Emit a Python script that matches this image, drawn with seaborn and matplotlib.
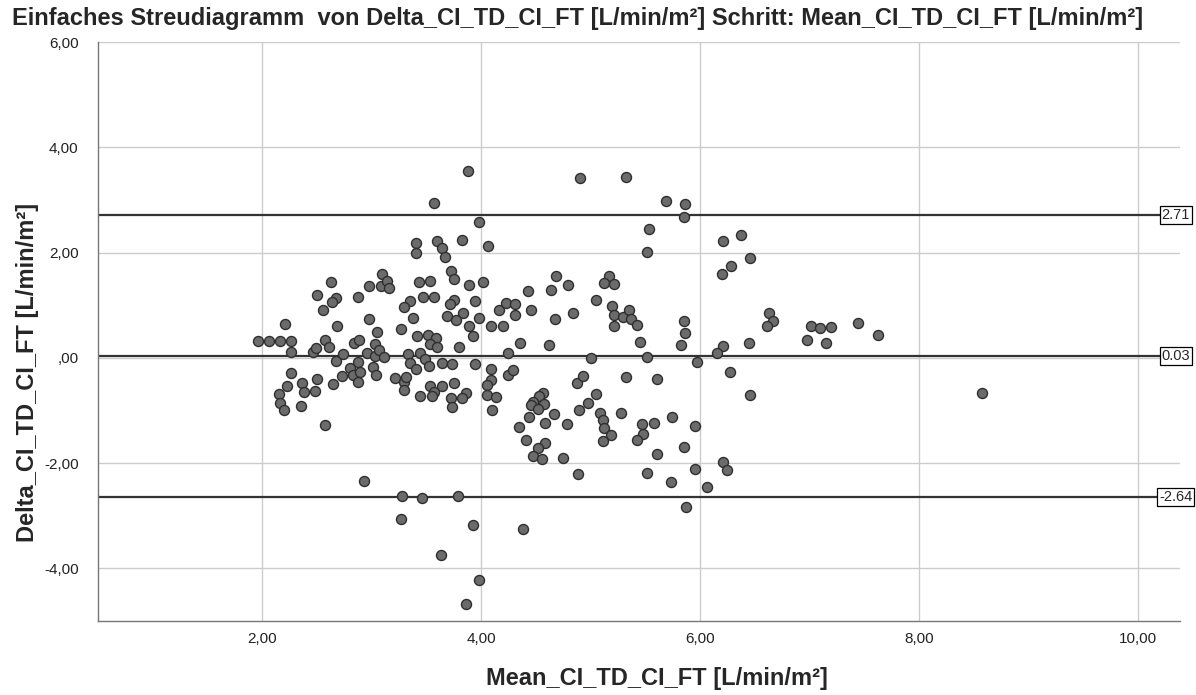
import matplotlib
matplotlib.use("Agg")
import matplotlib.pyplot as plt
import matplotlib.ticker as mticker
import seaborn as sns
import pandas as pd

# Bland-Altman data
mean_ci = [
    2.63, 2.50, 2.67, 2.64, 2.87, 2.97, 2.55, 2.97, 2.21, 2.68, 3.09, 3.08,
    1.96, 2.06, 2.16, 2.26, 2.26, 2.46, 2.49, 2.57, 2.61, 2.67, 2.74, 2.84,
    2.88, 3.03, 3.05, 2.96, 3.03, 3.07, 2.87, 2.80, 2.73, 2.83, 2.89, 2.87,
    3.01, 3.04, 2.65, 2.50, 2.36, 2.38, 2.48, 2.26, 2.23, 2.15, 2.16, 2.20,
    2.35, 2.57, 2.93,
    3.88, 3.57, 4.90, 3.98, 3.40, 3.40, 3.60, 3.64, 3.67, 3.82, 4.06, 3.72,
    3.75, 3.14, 3.16, 3.43, 3.53, 3.89, 4.02, 3.47, 3.57, 3.35, 3.29, 3.75,
    3.71, 3.94, 3.83, 3.38, 3.69, 3.77, 3.98, 3.89, 3.27, 4.09, 4.20, 4.16,
    4.23, 4.31, 4.31, 4.43, 4.45, 4.64, 4.68, 4.79, 4.67, 4.84,
    3.41, 3.51, 3.59, 3.53, 3.60, 3.80, 3.92, 3.11, 3.33, 3.44, 3.35, 3.49,
    3.40, 3.52, 3.64, 3.73, 3.94, 4.24, 4.35, 4.62, 3.21, 3.29, 3.31, 3.29,
    3.44, 3.53, 3.57, 3.55, 3.64, 3.75, 3.86, 3.82, 3.72, 3.73, 4.09, 4.09,
    4.05, 4.05, 4.13, 4.10, 4.24, 4.29, 4.87, 4.89, 4.56, 4.53, 4.47, 4.45,
    4.57, 4.52, 4.66, 4.44, 4.58, 4.78, 4.34, 4.41, 4.58, 4.52, 4.47, 4.55,
    4.75, 4.88, 3.28, 3.46, 3.79,
    3.27, 3.92, 4.38, 3.63, 3.98, 3.86,
    5.32, 5.69, 5.86, 5.85, 5.53, 5.51, 6.21, 6.37, 6.45, 6.28, 6.20, 5.17,
    5.12, 5.21, 5.05, 5.19, 5.21, 5.29, 5.35, 5.37, 5.42, 5.21, 5.85, 6.63,
    6.66, 6.61,
    5.86, 5.45, 5.82, 5.00, 5.51, 5.97, 6.21, 6.15, 6.44, 6.27, 6.45, 4.93,
    5.32, 5.60, 5.05, 4.97, 5.08, 5.11, 5.28, 5.12, 5.18, 5.11, 5.47, 5.58,
    5.48, 5.42, 5.74, 5.95, 5.85, 5.60, 5.51, 5.95, 5.73, 6.21, 6.24, 6.06,
    5.87,
    7.01, 7.09, 7.19, 6.97, 7.15, 7.44, 7.62, 8.57,
]
delta_ci = [
    1.44, 1.20, 1.14, 1.06, 1.15, 1.36, 0.91, 0.74, 0.64, 0.60, 1.60, 1.36,
    0.32, 0.32, 0.32, 0.32, 0.11, 0.12, 0.18, 0.34, 0.20, -0.06, 0.07, 0.28,
    0.34, 0.26, 0.50, 0.10, 0.03, 0.15, -0.07, -0.20, -0.34, -0.32, -0.26, -0.45,
    -0.18, -0.32, -0.50, -0.40, -0.47, -0.65, -0.63, -0.28, -0.53, -0.69, -0.86, -0.99,
    -0.91, -1.27, -2.34,
    3.55, 2.95, 3.42, 2.58, 2.19, 2.00, 2.21, 2.09, 1.92, 2.24, 2.13, 1.64,
    1.49, 1.46, 1.32, 1.44, 1.46, 1.39, 1.44, 1.16, 1.15, 1.07, 0.96, 1.10,
    1.02, 1.07, 0.86, 0.75, 0.79, 0.72, 0.75, 0.61, 0.55, 0.60, 0.60, 0.91,
    1.05, 1.03, 0.82, 1.26, 0.90, 1.28, 1.56, 1.39, 0.74, 0.86,
    0.42, 0.44, 0.37, 0.27, 0.20, 0.20, 0.42, 0.01, 0.08, 0.10, -0.10, -0.03,
    -0.22, -0.15, -0.10, -0.12, -0.12, 0.09, 0.29, 0.25, -0.39, -0.45, -0.37, -0.61,
    -0.72, -0.53, -0.64, -0.72, -0.53, -0.48, -0.66, -0.77, -0.77, -0.94, -0.22, -0.43,
    -0.51, -0.70, -0.75, -0.99, -0.32, -0.23, -0.48, -0.99, -0.67, -0.73, -0.83, -0.89,
    -0.87, -0.98, -1.06, -1.13, -1.24, -1.25, -1.32, -1.57, -1.62, -1.72, -1.86, -1.92,
    -1.91, -2.21, -2.63, -2.67, -2.62,
    -3.06, -3.17, -3.25, -3.74, -4.23, -4.68,
    3.44, 2.97, 2.92, 2.68, 2.45, 2.01, 2.21, 2.34, 1.89, 1.75, 1.59, 1.56,
    1.43, 1.41, 1.10, 0.99, 0.82, 0.77, 0.91, 0.74, 0.63, 0.61, 0.69, 0.86,
    0.69, 0.61,
    0.48, 0.31, 0.25, -0.01, 0.01, -0.07, 0.23, 0.09, 0.28, -0.27, -0.70, -0.34,
    -0.37, -0.41, -0.69, -0.86, -1.05, -1.19, -1.05, -1.34, -1.46, -1.58, -1.26, -1.24,
    -1.45, -1.57, -1.13, -1.30, -1.70, -1.82, -2.18, -2.11, -2.35, -1.98, -2.13, -2.46,
    -2.84,
    0.61, 0.56, 0.58, 0.34, 0.29, 0.67, 0.44, -0.66,
]
limit_values = [2.71, 0.03, -2.64]
limit_labels = ["2.71", "0.03", "-2.64"]
x_ticks = [2, 4, 6, 8, 10]
y_ticks = [-4, -2, 0, 2, 4, 6]

title = ("Einfaches Streudiagramm  von Delta_CI_TD_CI_FT [L/min/m²] "
         "Schritt: Mean_CI_TD_CI_FT [L/min/m²]")
x_label = "Mean_CI_TD_CI_FT [L/min/m²]"
y_label = "Delta_CI_TD_CI_FT [L/min/m²]"


def comma_fmt(v, pos):
    s = f"{v:.2f}".replace(".", ",")
    if s == "0,00":
        return ",00"
    return s


sns.set_style("white")
plt.rcParams["font.family"] = ["Liberation Sans", "DejaVu Sans"]

fig = plt.figure(figsize=(11.96, 6.95), dpi=100)
ax = fig.add_axes([98 / 1196, 1 - 621 / 695, 1082 / 1196, 579 / 695])

df = pd.DataFrame({"mean": mean_ci, "delta": delta_ci})
sns.scatterplot(data=df, x="mean", y="delta", ax=ax, s=52,
                color="#6b6b6b", edgecolor="#2e2e2e", linewidth=1.0,
                zorder=3, legend=False)

for v, lab in zip(limit_values, limit_labels):
    ax.axhline(v, color="#333333", lw=1.6, zorder=2)
    ax.text(0.996, v, lab, transform=ax.get_yaxis_transform(),
            ha="center", va="center", fontsize=10.5, clip_on=False, zorder=5,
            bbox=dict(boxstyle="square,pad=0.12", fc="white", ec="black", lw=0.9))

ax.set_xlim(0.5, 10.38)
ax.set_ylim(-5.0, 6.0)
ax.set_xticks(x_ticks)
ax.set_yticks(y_ticks)
ax.xaxis.set_major_formatter(mticker.FuncFormatter(comma_fmt))
ax.yaxis.set_major_formatter(mticker.FuncFormatter(comma_fmt))
ax.tick_params(axis="both", labelsize=11, colors="#222222", length=4,
               width=0.8, direction="out")
ax.tick_params(axis="y", pad=10)
ax.tick_params(axis="x", length=0, pad=8)
ax.grid(True, color="#cccccc", lw=1.0)
ax.set_axisbelow(True)
for side in ["top", "right"]:
    ax.spines[side].set_visible(False)
for side in ["left", "bottom"]:
    ax.spines[side].set_color("#777777")
    ax.spines[side].set_linewidth(1.0)
ax.set_xlabel("")
ax.set_ylabel("")

fig.text(12 / 1196, 1 - 18 / 695, title, fontsize=17, fontweight="bold",
         ha="left", va="center")
fig.text(657 / 1196, 1 - 678 / 695, x_label, fontsize=17, fontweight="bold",
         ha="center", va="center")
fig.text(28 / 1196, 1 - 372 / 695, y_label, fontsize=17, fontweight="bold",
         ha="center", va="center", rotation=90)

fig.savefig("out.png", dpi=100)
